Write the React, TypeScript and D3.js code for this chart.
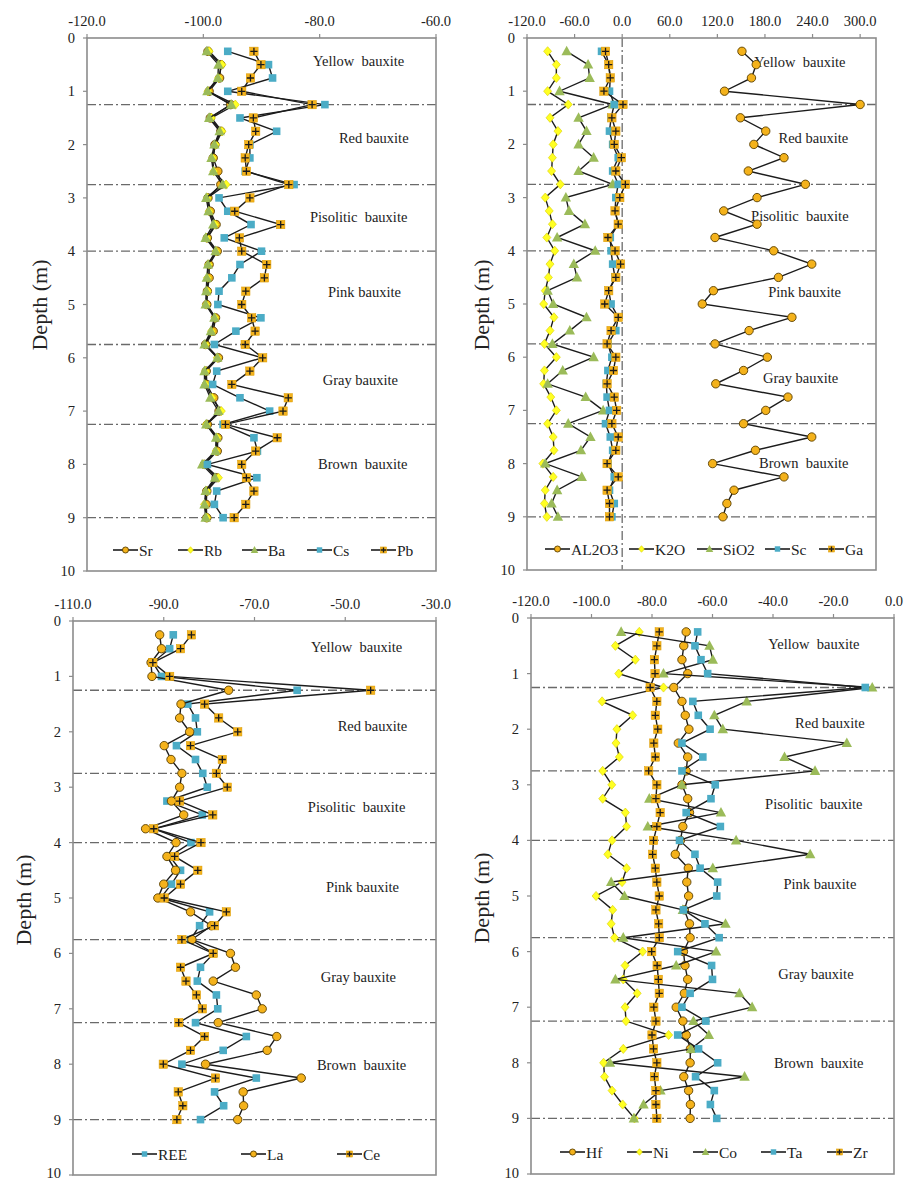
import React from 'react';
import * as d3 from 'd3';

const FONT = '"Liberation Serif", "Times New Roman", "DejaVu Serif", serif';

// Sample depths (m)
const DEPTHS = [0.25, 0.5, 0.75, 1, 1.25, 1.5, 1.75, 2, 2.25, 2.5, 2.75, 3, 3.25, 3.5, 3.75, 4, 4.25, 4.5, 4.75,
  5, 5.25, 5.5, 5.75, 6, 6.25, 6.5, 6.75, 7, 7.25, 7.5, 7.75, 8, 8.25, 8.5, 8.75, 9];
const BOUNDARIES = [1.25, 2.75, 4.0, 5.75, 7.25, 9.0];
const DEPTH_TICKS = [0, 1, 2, 3, 4, 5, 6, 7, 8, 9, 10];
const ZONES = ['Yellow  bauxite', 'Red bauxite', 'Pisolitic  bauxite', 'Pink bauxite', 'Gray bauxite', 'Brown  bauxite'];

// Panel 1
const P1_TICKS = [-120, -100, -80, -60];
const Sr = [-99.2, -97.0, -97.2, -99.0, -95.3, -98.8, -97.0, -98.0, -98.3, -97.5, -97.0, -99.2, -98.8, -97.8, -99.3, -97.6, -99.0, -99.0, -99.3,
  -99.4, -97.9, -98.3, -99.6, -97.4, -99.5, -99.4, -98.2, -97.3, -99.3, -97.5, -97.6, -99.8, -97.8, -99.4, -99.5, -99.4];
const Rb = [-99.0, -96.8, -97.4, -99.2, -94.5, -98.6, -96.8, -97.9, -98.4, -98.2, -96.1, -99.3, -99.0, -98.0, -99.4, -97.8, -99.1, -99.3, -99.3,
  -99.5, -98.0, -98.6, -99.6, -97.6, -99.6, -99.6, -98.5, -96.9, -99.5, -97.6, -97.8, -99.9, -97.4, -99.4, -99.8, -99.4];
const Ba = [-99.4, -97.4, -97.5, -99.3, -95.2, -99.0, -97.2, -98.1, -98.6, -98.3, -96.7, -99.5, -99.1, -98.3, -99.6, -97.9, -99.2, -99.4, -99.5,
  -99.6, -98.1, -98.7, -99.8, -97.6, -99.8, -99.8, -98.8, -97.4, -99.5, -97.8, -97.9, -100.2, -98.0, -99.6, -99.8, -99.6];
const Cs = [-95.8, -88.8, -88.1, -95.8, -79.1, -93.7, -87.4, -92.0, -92.0, -92.8, -84.4, -97.3, -95.8, -91.8, -96.4, -90.0, -93.7, -95.1, -97.3,
  -97.5, -90.1, -94.4, -98.1, -89.9, -97.7, -98.4, -93.7, -88.6, -96.6, -91.3, -90.7, -99.3, -90.8, -97.7, -98.1, -96.6];
const Pb = [-91.3, -90.1, -91.9, -93.4, -81.3, -91.4, -91.0, -92.2, -92.8, -92.6, -85.3, -92.0, -94.6, -86.7, -93.8, -93.4, -89.1, -89.5, -92.7,
  -93.4, -91.7, -91.1, -92.8, -89.8, -92.0, -95.1, -85.4, -86.3, -96.2, -87.3, -91.0, -93.4, -92.6, -91.3, -92.7, -94.7];

// Panel 2
const P2_TICKS = [-120, -60, 0, 60, 120, 180, 240, 300];
const AL2O3 = [151, 169, 163, 129, 300, 149, 181, 166, 204, 159, 231, 170, 128, 170, 117, 191, 239, 197, 115,
  101, 214, 160, 117, 183, 153, 118, 209, 181, 153, 239, 168, 114, 204, 141, 132, 127];
const K2O = [-94, -83, -83, -94, -68, -91, -81, -87, -88, -89, -78, -97, -92, -88, -95, -85, -91, -93, -97,
  -99, -86, -91, -98, -83, -98, -99, -90, -83, -94, -87, -86, -100, -87, -97, -98, -95];
const SiO2 = [-70, -43, -41, -79, -12, -55, -45, -55, -36, -55, -12, -71, -67, -47, -82, -34, -61, -57, -94,
  -87, -45, -66, -88, -36, -75, -94, -46, -24, -68, -40, -52, -97, -51, -82, -89, -81];
const Sc = [-26, -17, -15, -16, -10, -14, -16, -12, -5, -12, -5, -8, -9, -5, -15, -14, -12, -9, -17,
  -14, -5, -8, -18, -13, -18, -20, -19, -16, -21, -15, -12, -18, -10, -16, -10, -13];
const Ga = [-21, -17, -15, -23, 1, -13, -8, -10, -1, -8, 4, -3, -9, -5, -18, -9, -2, -8, -17,
  -22, -5, -14, -19, -8, -11, -19, -10, -7, -13, -5, -8, -19, -5, -19, -16, -16];

// Panel 3
const P3_TICKS = [-110, -90, -70, -50, -30];
const REE = [-87.9, -88.7, -92.4, -90.5, -60.6, -84.7, -83.0, -82.6, -87.2, -83.0, -81.4, -80.4, -89.3, -81.5, -92.2, -84.0, -88.7, -86.3, -88.3,
  -90.7, -79.9, -82.1, -84.1, -79.0, -81.9, -82.6, -78.4, -78.1, -83.0, -71.8, -76.9, -86.0, -69.6, -78.8, -76.8, -81.9];
const La = [-90.9, -90.5, -92.8, -92.6, -75.7, -86.2, -86.5, -84.3, -89.9, -88.4, -86.0, -86.5, -88.3, -85.6, -94.0, -87.3, -89.3, -87.4, -90.0,
  -91.3, -84.1, -79.5, -83.8, -75.3, -74.2, -79.1, -69.6, -68.3, -78.0, -65.1, -67.2, -80.8, -59.7, -72.5, -72.4, -73.7];
const Ce = [-83.9, -86.3, -92.4, -88.7, -44.4, -81.0, -77.9, -73.7, -84.1, -77.1, -78.4, -76.0, -86.5, -79.2, -92.2, -81.8, -87.6, -82.5, -86.3,
  -89.9, -76.2, -78.8, -86.0, -79.1, -86.3, -85.1, -82.8, -81.5, -86.7, -81.0, -84.1, -90.1, -78.6, -86.8, -85.8, -87.1];

// Panel 4
const P4_TICKS = [-120, -100, -80, -60, -40, -20, 0];
const Hf = [-68.7, -69.5, -70.1, -68.2, -72.8, -70.1, -69.0, -67.8, -71.3, -68.2, -68.7, -70.1, -68.2, -67.6, -69.8, -70.6, -72.3, -68.0, -68.5,
  -67.9, -69.3, -67.6, -67.4, -69.6, -69.1, -68.2, -69.3, -72.0, -69.8, -68.7, -67.3, -67.4, -69.5, -67.9, -67.3, -67.4];
const Ni = [-84.2, -92.1, -85.5, -91.0, -76.2, -96.5, -86.4, -91.6, -91.9, -90.8, -96.3, -93.3, -96.3, -88.8, -88.4, -93.2, -94.6, -88.4, -89.9,
  -98.5, -93.0, -93.5, -92.4, -83.1, -88.9, -89.5, -84.9, -88.9, -88.6, -74.5, -89.5, -96.0, -95.7, -93.2, -89.7, -85.8];
const Co = [-90.2, -61.0, -59.9, -76.2, -7.2, -48.7, -59.4, -56.6, -15.6, -36.2, -26.1, -70.1, -80.9, -57.2, -81.4, -52.2, -27.7, -59.9, -93.5,
  -89.1, -69.8, -55.7, -89.5, -58.8, -72.0, -92.1, -51.1, -46.9, -66.3, -61.2, -67.1, -93.9, -49.4, -77.2, -82.8, -86.0];
const Ta = [-64.9, -65.8, -63.8, -61.6, -9.5, -66.5, -64.7, -60.8, -70.1, -63.2, -70.1, -59.1, -60.5, -68.7, -57.4, -70.9, -65.8, -64.1, -58.3,
  -58.6, -69.6, -62.5, -57.8, -71.5, -60.3, -60.0, -67.4, -70.1, -62.2, -71.5, -64.6, -58.3, -65.6, -59.4, -60.7, -58.6];
const Zr = [-77.6, -78.4, -79.2, -79.0, -80.6, -78.4, -78.9, -78.1, -79.4, -78.9, -81.1, -78.4, -78.7, -77.3, -78.4, -79.5, -79.8, -78.9, -78.4,
  -77.6, -78.7, -77.8, -77.6, -80.1, -78.3, -77.9, -77.6, -79.4, -78.7, -80.0, -79.5, -78.4, -79.2, -78.7, -78.7, -78.4];

type Shape = 'circle' | 'diamond' | 'triangle' | 'square' | 'plus';
interface Series { name: string; values: number[]; shape: Shape; }
interface PanelCfg {
  l: number; t: number; r: number; b: number;
  domain: [number, number];
  ticks: number[];
  series: Series[];
  zoneX: number[];
  zoneDepth: number[];
  legendX: number[];
  legendY: number;
  depthLabel: [number, number];
  zeroLine?: boolean;
}

const ORANGE = '#F4B21B';

function Marker({ shape, x, y, s = 1 }: { shape: Shape; x: number; y: number; s?: number }) {
  switch (shape) {
    case 'circle':
      return <circle cx={x} cy={y} r={4.2 * s} fill={ORANGE} stroke="#5a4000" strokeWidth={0.9} />;
    case 'diamond':
      return <polygon points={`${x},${y - 4.6 * s} ${x + 4 * s},${y} ${x},${y + 4.6 * s} ${x - 4 * s},${y}`}
        fill="#FFFF22" stroke="#d8cc00" strokeWidth={0.6} />;
    case 'triangle':
      return <polygon points={`${x},${y - 5.6 * s} ${x + 5.2 * s},${y + 4 * s} ${x - 5.2 * s},${y + 4 * s}`}
        fill="#9BBB59" />;
    case 'square':
      return <rect x={x - 3.8 * s} y={y - 3.8 * s} width={7.6 * s} height={7.6 * s} fill="#4BACC6" />;
    case 'plus':
      return (
        <g>
          <rect x={x - 4.2 * s} y={y - 4.2 * s} width={8.4 * s} height={8.4 * s} fill={ORANGE} stroke="#d99a00" strokeWidth={0.5} />
          <path d={`M${x - 3.6 * s},${y}H${x + 3.6 * s}M${x},${y - 3.6 * s}V${y + 3.6 * s}`} stroke="#1a1a1a" strokeWidth={1.3} />
        </g>
      );
  }
  return null;
}

function Panel({ p }: { p: PanelCfg }) {
  const x = d3.scaleLinear().domain(p.domain).range([p.l, p.r]);
  const y = d3.scaleLinear().domain([0, 10]).range([p.t, p.b]);
  const line = d3.line<[number, number]>().x(d => x(d[0])).y(d => y(d[1]));
  const dash = '9,3,2,3';
  const txt = { fontFamily: FONT } as React.CSSProperties;
  return (
    <g>
      {BOUNDARIES.map(d => (
        <line key={d} x1={p.l} x2={p.r} y1={y(d)} y2={y(d)} stroke="#6a6a6a" strokeWidth={1.3} strokeDasharray={dash} />
      ))}
      {p.zeroLine && (
        <line x1={x(0)} x2={x(0)} y1={p.t} y2={p.b} stroke="#6a6a6a" strokeWidth={1.3} strokeDasharray={dash} />
      )}
      {ZONES.map((z, i) => (
        <text key={z} x={x(p.zoneX[i])} y={y(p.zoneDepth[i]) + 5} textAnchor="middle" fontSize={14.5}
          fill="#222" style={{ ...txt, whiteSpace: 'pre' }}>{z}</text>
      ))}
      {p.series.map(s => {
        const pts: [number, number][] = DEPTHS.map((d, i) => [s.values[i], d]);
        return (
          <g key={s.name}>
            <path d={line(pts) || ''} fill="none" stroke="#1c1c1c" strokeWidth={1.4} />
            {pts.map((pt, i) => <Marker key={i} shape={s.shape} x={x(pt[0])} y={y(pt[1])} />)}
          </g>
        );
      })}
      <rect x={p.l} y={p.t} width={p.r - p.l} height={p.b - p.t} fill="none" stroke="#8c8c8c" strokeWidth={1.6} />
      {p.ticks.map(t => (
        <g key={t}>
          <line x1={x(t)} x2={x(t)} y1={p.t} y2={p.t - 4} stroke="#8c8c8c" strokeWidth={1.2} />
          <text x={x(t)} y={p.t - 12} textAnchor="middle" fontSize={14.5} fill="#222" style={txt}>{t.toFixed(1)}</text>
        </g>
      ))}
      {DEPTH_TICKS.map(t => (
        <g key={t}>
          <line x1={p.l} x2={p.l - 4} y1={y(t)} y2={y(t)} stroke="#8c8c8c" strokeWidth={1.2} />
          <text x={p.l - 12} y={Math.min(y(t) + 5, 1178)} textAnchor="end" fontSize={14.5} fill="#222" style={txt}>{t}</text>
        </g>
      ))}
      <text transform={`translate(${p.depthLabel[0]},${p.depthLabel[1]}) rotate(-90)`} textAnchor="middle"
        dominantBaseline="central" fontSize={22} fill="#222" style={txt}>Depth (m)</text>
      {p.series.map((s, i) => {
        const lx = p.legendX[i];
        return (
          <g key={s.name}>
            <line x1={lx} x2={lx + 25} y1={p.legendY} y2={p.legendY} stroke="#1c1c1c" strokeWidth={1.6} />
            <Marker shape={s.shape} x={lx + 12.5} y={p.legendY} s={0.72} />
            <text x={lx + 26} y={p.legendY + 5.5} fontSize={15.5} fill="#222" style={txt}>{s.name}</text>
          </g>
        );
      })}
    </g>
  );
}

const PANELS: PanelCfg[] = [
  {
    l: 87, t: 38, r: 436, b: 571, domain: [-120, -60], ticks: P1_TICKS,
    series: [
      { name: 'Sr', values: Sr, shape: 'circle' },
      { name: 'Rb', values: Rb, shape: 'diamond' },
      { name: 'Ba', values: Ba, shape: 'triangle' },
      { name: 'Cs', values: Cs, shape: 'square' },
      { name: 'Pb', values: Pb, shape: 'plus' },
    ],
    zoneX: [-73.3, -70.7, -73.3, -72.3, -73.0, -72.6],
    zoneDepth: [0.44, 1.87, 3.35, 4.76, 6.41, 7.99],
    legendX: [113, 178, 242, 307, 371], legendY: 550, depthLabel: [39, 305],
  },
  {
    l: 527, t: 38, r: 876, b: 570, domain: [-120, 320], ticks: P2_TICKS,
    series: [
      { name: 'AL2O3', values: AL2O3, shape: 'circle' },
      { name: 'K2O', values: K2O, shape: 'diamond' },
      { name: 'SiO2', values: SiO2, shape: 'triangle' },
      { name: 'Sc', values: Sc, shape: 'square' },
      { name: 'Ga', values: Ga, shape: 'plus' },
    ],
    zoneX: [224, 241, 224, 230, 225, 229],
    zoneDepth: [0.45, 1.88, 3.34, 4.77, 6.40, 7.98],
    legendX: [545, 629, 697, 765, 819], legendY: 549, depthLabel: [481, 305], zeroLine: true,
  },
  {
    l: 73, t: 621, r: 436, b: 1175, domain: [-110, -30], ticks: P3_TICKS,
    series: [
      { name: 'REE', values: REE, shape: 'square' },
      { name: 'La', values: La, shape: 'circle' },
      { name: 'Ce', values: Ce, shape: 'plus' },
    ],
    zoneX: [-47.5, -44.0, -47.5, -46.2, -47.1, -46.4],
    zoneDepth: [0.47, 1.89, 3.36, 4.80, 6.43, 8.02],
    legendX: [132, 241, 337], legendY: 1154, depthLabel: [23, 900],
  },
  {
    l: 531, t: 618, r: 894, b: 1174, domain: [-120, 0], ticks: P4_TICKS,
    series: [
      { name: 'Hf', values: Hf, shape: 'circle' },
      { name: 'Ni', values: Ni, shape: 'diamond' },
      { name: 'Co', values: Co, shape: 'triangle' },
      { name: 'Ta', values: Ta, shape: 'square' },
      { name: 'Zr', values: Zr, shape: 'plus' },
    ],
    zoneX: [-26.5, -21.2, -26.5, -24.5, -25.8, -24.9],
    zoneDepth: [0.46, 1.88, 3.34, 4.78, 6.41, 8.00],
    legendX: [560, 627, 693, 761, 827], legendY: 1152, depthLabel: [481, 898],
  },
];

export default function App() {
  return (
    <svg width={906} height={1180} style={{ position: 'absolute', left: 0, top: 0, background: '#fff' }}>
      <rect width={906} height={1180} fill="#fff" />
      {PANELS.map((p, i) => <Panel key={i} p={p} />)}
    </svg>
  );
}
